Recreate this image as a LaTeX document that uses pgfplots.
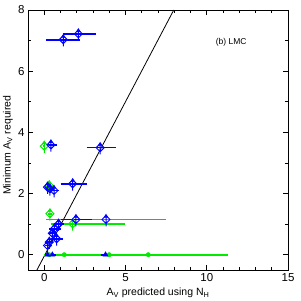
\documentclass[border=0pt]{standalone}
\usepackage{pgfplots}
\pgfplotsset{compat=1.18}
\usepackage{fontspec}
\setmainfont{Liberation Sans}
\definecolor{pblue}{RGB}{0,0,255}
\definecolor{pgreen}{RGB}{0,235,0}
\definecolor{lblue}{RGB}{110,110,255}
\pgfdeclareplotmark{lolim}{%
 \pgfpathmoveto{\pgfqpoint{0pt}{\pgfplotmarksize}}%
 \pgfpathlineto{\pgfqpoint{\pgfplotmarksize}{0pt}}%
 \pgfpathlineto{\pgfqpoint{0pt}{-\pgfplotmarksize}}%
 \pgfpathlineto{\pgfqpoint{-\pgfplotmarksize}{0pt}}%
 \pgfpathclose
 \pgfpathmoveto{\pgfqpoint{0pt}{-1.7\pgfplotmarksize}}%
 \pgfpathlineto{\pgfqpoint{0pt}{1.0\pgfplotmarksize}}%
 \pgfusepathqstroke
 \pgfpathmoveto{\pgfqpoint{-0.6\pgfplotmarksize}{0.5\pgfplotmarksize}}%
 \pgfpathlineto{\pgfqpoint{0.6\pgfplotmarksize}{0.5\pgfplotmarksize}}%
 \pgfpathlineto{\pgfqpoint{0pt}{1.45\pgfplotmarksize}}%
 \pgfpathclose
 \pgfusepathqfill
}
% lower-limit points
\pgfplotstableread{
x y
1.17 7.03
2.10 7.22
0.41 3.59
3.44 3.50
0.20 2.21
0.35 2.15
0.60 2.10
1.75 2.32
1.95 1.15
3.80 1.15
0.62 0.85
0.88 1.00
0.31 0.41
0.76 0.52
0.20 0.30
0.50 0.70
}\bluelim
\pgfplotstableread{
x y
0.00 3.55
0.31 2.26
0.35 1.34
1.75 1.01
}\greenlim
\pgfplotstableread{
x y
0.20 0.00
0.50 0.00
3.77 0.00
}\bluezero
\pgfplotstableread{
x y
0.30 0.00
1.23 0.00
4.00 0.00
6.40 0.00
}\greenzero
% horizontal uncertainty bars: left end, right end (rows separated by nan)
\pgfplotstableread{
x y
0.10 7.03
2.20 7.03
nan nan
1.13 7.22
3.20 7.22
nan nan
0.16 3.59
0.76 3.59
nan nan
2.60 3.50
4.40 3.50
nan nan
0.05 2.21
0.40 2.21
nan nan
0.15 2.15
0.60 2.15
nan nan
0.30 2.10
0.90 2.10
nan nan
1.00 2.32
2.60 2.32
nan nan
1.05 1.15
2.95 1.15
nan nan
0.32 0.85
1.02 0.85
nan nan
0.58 1.00
1.23 1.00
nan nan
0.11 0.41
0.56 0.41
nan nan
0.41 0.52
1.16 0.52
nan nan
0.05 0.30
0.40 0.30
nan nan
0.30 0.70
0.75 0.70
nan nan
0.05 0.00
0.75 0.00
nan nan
3.47 0.00
4.07 0.00
}\bluebars
\pgfplotstableread{
x y
0.10 1.15
7.50 1.15
}\lbluebar
\pgfplotstableread{
x y
-0.05 3.55
0.05 3.55
nan nan
0.21 2.26
0.41 2.26
nan nan
0.25 1.34
0.45 1.34
nan nan
0.41 1.01
4.94 1.01
nan nan
0.00 0.00
0.60 0.00
nan nan
0.53 0.00
2.03 0.00
nan nan
1.00 0.00
7.00 0.00
nan nan
1.50 0.00
11.30 0.00
}\greenbars
\begin{document}
\begin{tikzpicture}
\begin{axis}[
 scale only axis, width=260pt, height=260pt,
 xmin=-1, xmax=15, ymin=-0.5, ymax=8,
 xtick={0,5,10,15}, minor x tick num=4,
 ytick={0,2,4,6,8}, minor y tick num=1,
 tick align=inside,
 major tick length=5pt, minor tick length=3pt,
 axis line style={line width=0.9pt},
 every tick/.style={black, line width=0.8pt},
 tick label style={font=\fontsize{11.5}{12}\selectfont},
 /pgf/number format/assume math mode=true,
 xlabel={A\textsubscript{V} predicted using N\textsubscript{H}},
 ylabel={Minimum A\textsubscript{V} required},
 label style={font=\fontsize{10.5}{12}\selectfont},
 xlabel style={at={(axis description cs:0.5,-0.088)}, anchor=center},
 ylabel style={at={(axis description cs:-0.077,0.48)}, anchor=center},
 clip=false, unbounded coords=jump,
]
\addplot[black, line width=0.8pt] coordinates {(-0.45,-0.5) (7.97,8)};
\addplot[draw=lblue, line width=1.1pt, mark=none] table[x=x,y=y]{\lbluebar};
\addplot[draw=pgreen, line width=1.7pt, mark=none] table[x=x,y=y]{\greenbars};
\addplot[draw=pblue, line width=1.7pt, mark=none] table[x=x,y=y]{\bluebars};
\addplot[only marks, mark=*, mark size=2.2pt, mark options={solid, draw=pgreen, fill=pgreen}]
  table[x=x, y=y]{\greenzero};
\addplot[only marks, mark=lolim, mark size=4pt, mark options={solid, line width=1pt, draw=pgreen, fill=pgreen}]
  table[x=x, y=y]{\greenlim};
\addplot[only marks, mark=lolim, mark size=4pt, mark options={solid, line width=1pt, draw=pblue, fill=pblue}]
  table[x=x, y=y]{\bluelim};
\addplot[only marks, mark=triangle*, mark size=3pt, mark options={solid, draw=pblue, fill=pblue}]
  table[x=x, y=y]{\bluezero};
\node[font=\fontsize{8.5}{10}\selectfont] at (axis cs:11.5,6.94) {(b) LMC};
\end{axis}
\pgfresetboundingbox
\path ([xshift=-28pt,yshift=-31pt]current axis.south west) rectangle ([xshift=12pt,yshift=10pt]current axis.north east);
\end{tikzpicture}
\end{document}
